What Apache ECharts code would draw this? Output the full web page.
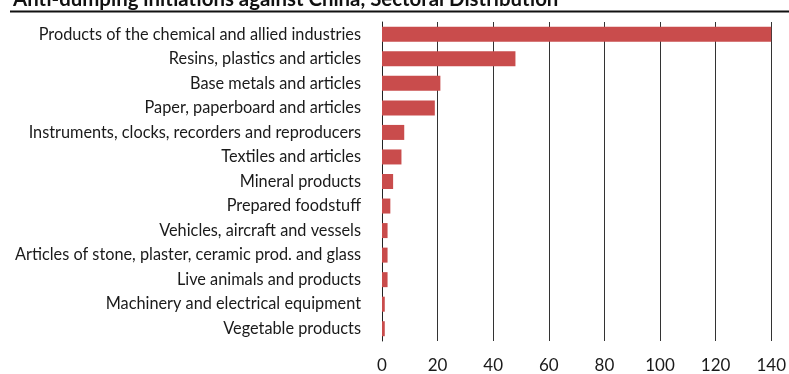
<!DOCTYPE html>
<html>
<head>
<meta charset="utf-8">
<title>Anti-dumping initiations against China, Sectoral Distribution</title>
<script src="https://cdn.jsdelivr.net/npm/echarts@6/dist/echarts.min.js"></script>
<style>
  html, body { margin: 0; padding: 0; background: #fff; }
  #chart { width: 789px; height: 374px; }
</style>
</head>
<body>
<div id="chart"></div>
<script>
// Sectors, listed from the largest number of initiations down
const sectors = [
  'Products of the chemical and allied industries',
  'Resins, plastics and articles',
  'Base metals and articles',
  'Paper, paperboard and articles',
  'Instruments, clocks, recorders and reproducers',
  'Textiles and articles',
  'Mineral products',
  'Prepared foodstuff',
  'Vehicles, aircraft and vessels',
  'Articles of stone, plaster, ceramic prod. and glass',
  'Live animals and products',
  'Machinery and electrical equipment',
  'Vegetable products'
];

// Number of anti-dumping initiations per sector
const initiations = [140, 48, 21, 19, 8, 7, 4, 3, 2, 2, 2, 1, 1];

// Value axis range and step
const axisMin = 0;
const axisMax = 140;
const axisStep = 20;

const chart = echarts.init(document.getElementById('chart'), null, { renderer: 'canvas' });

chart.setOption({
  animation: false,
  backgroundColor: '#ffffff',
  title: {
    text: 'Anti-dumping initiations against China, Sectoral Distribution',
    left: 8,
    top: -16,
    textStyle: {
      fontFamily: 'Lato',
      fontSize: 20.4,
      fontWeight: 'bold',
      color: '#111111'
    }
  },
  graphic: [{
    type: 'line',
    shape: { x1: 10, y1: 11.5, x2: 789, y2: 11.5 },
    style: { stroke: '#111111', lineWidth: 2 }
  }],
  grid: {
    left: 382,
    right: 15,
    top: 22,
    bottom: 33,
    containLabel: false
  },
  xAxis: {
    type: 'value',
    min: axisMin,
    max: axisMax,
    interval: axisStep,
    axisLine: { show: false },
    axisTick: { show: false },
    splitLine: { show: true, lineStyle: { color: '#333333', width: 1 } },
    axisLabel: {
      margin: 16,
      fontFamily: 'Lato',
      fontSize: 17,
      color: '#1a1a1a'
    }
  },
  yAxis: {
    type: 'category',
    inverse: true,
    data: sectors,
    axisLine: { show: true, lineStyle: { color: '#222222', width: 1 } },
    axisTick: { show: false },
    axisLabel: {
      margin: 21,
      fontFamily: 'Lato',
      fontSize: 16.3,
      color: '#1a1a1a'
    }
  },
  series: [{
    type: 'bar',
    data: initiations,
    barWidth: 15,
    itemStyle: { color: '#c94c4c' }
  }]
});
</script>
</body>
</html>
